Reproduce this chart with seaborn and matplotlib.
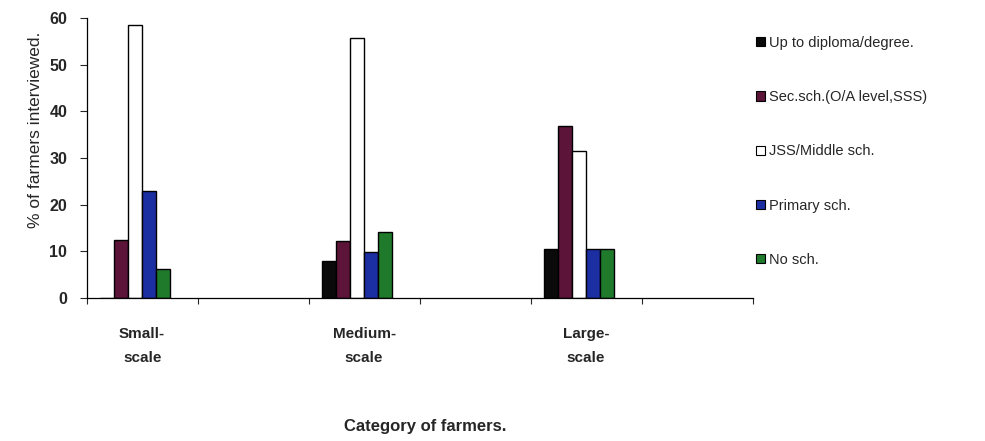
import matplotlib
matplotlib.use("Agg")
import matplotlib.pyplot as plt
import seaborn as sns
import pandas as pd
from matplotlib.patches import Patch
from matplotlib.ticker import FixedLocator

# Farmer categories (with empty spacer slots between them, as on the axis)
categories = ["Small-\nscale", "gap1", "Medium-\nscale", "gap2", "Large-\nscale", "gap3"]
tick_labels = ["Small-\nscale", "", "Medium-\nscale", "", "Large-\nscale", ""]
farm_groups = ["Small-\nscale", "Medium-\nscale", "Large-\nscale"]

# Education levels
levels = ["Up to diploma/degree.", "Sec.sch.(O/A level,SSS)", "JSS/Middle sch.",
          "Primary sch.", "No sch."]

# Percentage of farmers interviewed per education level
diploma = [0.0, 7.9, 10.5]
secondary = [12.5, 12.2, 36.8]
jss_middle = [58.5, 55.8, 31.6]
primary = [22.9, 9.9, 10.5]
no_school = [6.2, 14.2, 10.5]

colors = ["#0a0a0a", "#5c1438", "#ffffff", "#1c2fa2", "#1f7a2c"]

rows = []
for lvl, vals in zip(levels, [diploma, secondary, jss_middle, primary, no_school]):
    for cat, v in zip(farm_groups, vals):
        rows.append({"category": cat, "level": lvl, "pct": v})
df = pd.DataFrame(rows)

# an unused sixth hue slot keeps each cluster left of its category centre
spacer = "(none)"
hue_order = levels + [spacer]
palette = dict(zip(hue_order, colors + ["#ffffff"]))

sns.set_style("white")
plt.rcParams["font.family"] = ["Liberation Sans", "DejaVu Sans"]

fig = plt.figure(figsize=(9.85, 4.41), dpi=100)
ax = fig.add_axes([0.088, 0.324, 0.676, 0.635])

sns.barplot(data=df, x="category", y="pct", hue="level", order=categories,
            hue_order=hue_order, palette=palette, width=0.76, dodge=True,
            edgecolor="black", linewidth=1.0, saturation=1, ax=ax, legend=False)

ax.set_xlim(-0.5, len(categories) - 0.5)
ax.set_ylim(0, 60)
ax.set_yticks([0, 10, 20, 30, 40, 50, 60])
ax.tick_params(axis="y", labelsize=11.5, length=5, width=0.8, direction="out",
               left=True, pad=9)
for t in ax.get_yticklabels():
    t.set_fontweight("bold")

# Category labels centred on slots, tick marks on slot boundaries
ax.set_xticks(range(len(categories)))
ax.set_xticklabels(tick_labels, fontsize=11, fontweight="bold", linespacing=1.85)
ax.tick_params(axis="x", which="major", length=0, pad=21)
ax.xaxis.set_minor_locator(FixedLocator([i - 0.5 for i in range(len(categories) + 1)]))
ax.tick_params(axis="x", which="minor", length=4, width=0.8, direction="out", bottom=True)

ax.set_xlabel("Category of farmers.", fontsize=12, fontweight="bold", va="center")
ax.xaxis.set_label_coords(0.508, -0.457)
ax.set_ylabel("% of farmers interviewed.", fontsize=12.5, va="center", ha="center")
ax.yaxis.set_label_coords(-0.077, 0.6)

for side in ["top", "right"]:
    ax.spines[side].set_visible(False)
for side in ["left", "bottom"]:
    ax.spines[side].set_color("black")
    ax.spines[side].set_linewidth(0.9)

handles = [Patch(facecolor=c, edgecolor="black", linewidth=0.8) for c in colors]
fig.legend(handles, levels, loc="upper left", bbox_to_anchor=(0.762, 0.932),
           frameon=False, fontsize=10.5, handlelength=0.6, handleheight=0.6,
           handletextpad=0.25, labelspacing=2.76, borderaxespad=0)

fig.savefig("out.png", dpi=100, facecolor="white")
